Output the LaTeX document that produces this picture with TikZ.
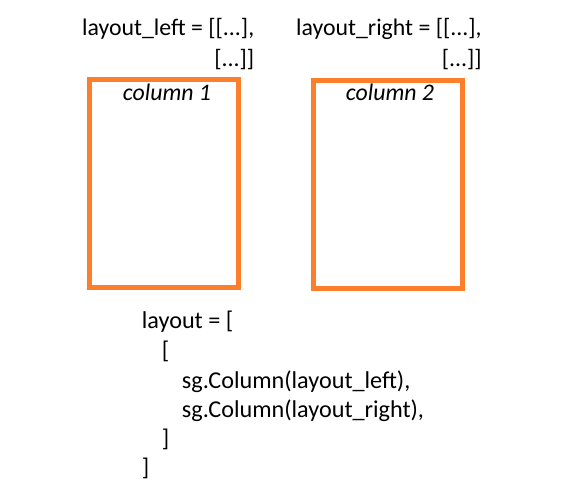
\documentclass[tikz,border=0pt]{standalone}
\usepackage{fontspec}
\setmainfont{Carlito}
\definecolor{boxorange}{RGB}{253,127,44}
\begin{document}
\begin{tikzpicture}[x=1pt,y=-1pt,
  txt/.style={inner sep=0pt,font=\fontsize{23.8}{28}\selectfont},
  code/.style={inner sep=0pt,anchor=base west,font=\fontsize{24.2}{28}\selectfont},
  colbox/.style={draw=boxorange,line width=5pt}]
\useasboundingbox (0,0) rectangle (561,501);
% top texts
\node[txt,anchor=base west] (ll1) at (82,35) {layout\_left = [[...],};
\node[txt,anchor=base east] (ll2) at (ll1.base east |- 0,66.5) {[...]]};
\node[txt,anchor=base west] (lr1) at (296,35) {layout\_right = [[...],};
\node[txt,anchor=base east] (lr2) at (lr1.base east |- 0,66.5) {[...]]};
% boxes
\draw[colbox] (89.8,79.3) rectangle (238.5,287.5);
\draw[colbox] (313.5,80.8) rectangle (462.5,288.2);
\node[txt,anchor=base,font=\fontsize{23.8}{28}\selectfont\itshape] (c1) at (167,100.5) {column 1};
\node[txt,anchor=base,font=\fontsize{23.8}{28}\selectfont\itshape] (c2) at (390,100) {column 2};
% code
\node[code] (k1) at (141.7,328) {layout = [};
\node[code] (k2) at (161.7,358.5) {[};
\node[code] (k3) at (181.7,388) {sg.Column(layout\_left),};
\node[code] (k4) at (181.7,417) {sg.Column(layout\_right),};
\node[code] (k5) at (161.7,446.5) {]};
\node[code] (k6) at (141.7,475.5) {]};
\end{tikzpicture}
\end{document}
